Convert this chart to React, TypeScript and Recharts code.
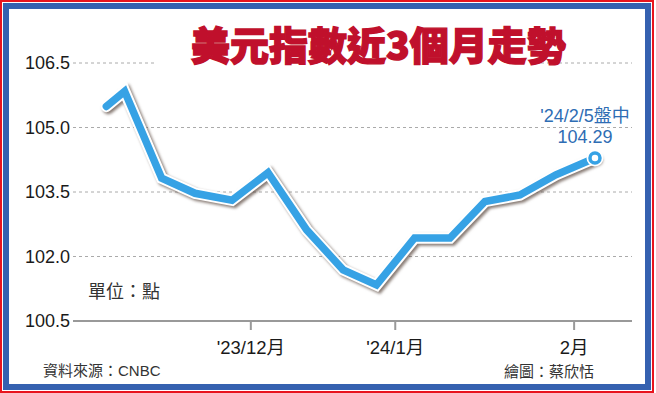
import { LineChart, Line, XAxis, YAxis, CartesianGrid } from 'recharts';

// day offsets counted from 1 Nov 2023
const DAYS = [2.3, 5.8, 12.9, 19.3, 26.4, 33.3, 40.7, 47.7, 54.1, 61.4, 68.2, 74.9, 81.6, 88.5, 96];
const DXY = [105.49, 105.84, 103.82, 103.47, 103.31, 103.95, 102.62, 101.69, 101.34, 102.43, 102.43, 103.28, 103.43, 103.9, 104.29];

const Y_TICKS = [100.5, 102, 103.5, 105, 106.5];
const X_TICKS = [30, 57.7, 92];
const X_LABELS = ["'23/12月", "'24/1月", '2月'];

const data = DAYS.map((day, i) => ({ day, value: DXY[i] }));
const last = data.length - 1;

const SANS = '"Liberation Sans", "Noto Sans CJK TC", sans-serif';
const CJK = '"Noto Sans CJK TC", "Liberation Sans", sans-serif';
const LINE_BLUE = '#36a2e5';

const abs = (left: number, top: number, extra: React.CSSProperties = {}): React.CSSProperties => ({
    position: 'absolute',
    left,
    top,
    whiteSpace: 'nowrap',
    ...extra,
});

export default function App() {
    return (
        <div style={{ position: 'absolute', left: 0, top: 0, width: 656, height: 393, background: '#fff', overflow: 'hidden' }}>
            <style>{`.outline-line { filter: drop-shadow(2px 2.5px 1.5px rgba(70, 50, 40, 0.65)); }`}</style>

            {/* frame: red hairline, white gap, blue band */}
            <div style={abs(0, 0, { width: 654, height: 393, border: '2px solid #e8141e', boxSizing: 'border-box' })} />
            <div style={abs(3, 3, { width: 648, height: 387, border: '6px solid #3561b0', boxSizing: 'border-box' })} />

            <div style={abs(0, 0)}>
                <LineChart width={656} height={393} data={data} margin={{ top: 63, right: 24, bottom: 42, left: 0 }}>
                    <CartesianGrid vertical={false} stroke="#aaaaaa" strokeDasharray="3 3" />
                    <XAxis
                        dataKey="day"
                        type="number"
                        domain={[-4.1, 103.1]}
                        ticks={X_TICKS}
                        tickFormatter={(v: number) => X_LABELS[X_TICKS.indexOf(v)]}
                        height={30}
                        stroke="#999999"
                        axisLine={{ stroke: '#999999', strokeWidth: 2 }}
                        tickLine={{ stroke: '#999999', strokeWidth: 2 }}
                        tickSize={9}
                        tickMargin={11}
                        tick={{ fill: '#1a1a1a', fontSize: 18.5, fontFamily: SANS }}
                    />
                    <YAxis
                        domain={[100.5, 106.5]}
                        ticks={Y_TICKS}
                        tickFormatter={(v: number) => v.toFixed(1)}
                        width={73}
                        axisLine={false}
                        tickLine={false}
                        tickSize={1}
                        tickMargin={2}
                        tick={{ fill: '#1a1a1a', fontSize: 18, fontFamily: SANS }}
                    />
                    <Line
                        className="outline-line"
                        type="linear"
                        dataKey="value"
                        stroke="#ffffff"
                        strokeWidth={11.5}
                        strokeLinecap="round"
                        isAnimationActive={false}
                        dot={(p: any) =>
                            p.index === last ? (
                                <circle key="o-last" cx={p.cx} cy={p.cy} r={8.5} fill="#ffffff" />
                            ) : (
                                <g key={`o-${p.index}`} />
                            )
                        }
                        activeDot={false}
                    />
                    <Line
                        type="linear"
                        dataKey="value"
                        stroke={LINE_BLUE}
                        strokeWidth={7.5}
                        strokeLinecap="round"
                        isAnimationActive={false}
                        dot={(p: any) =>
                            p.index === last ? (
                                <circle key="b-last" cx={p.cx} cy={p.cy} r={5} fill="#ffffff" stroke={LINE_BLUE} strokeWidth={3.5} />
                            ) : (
                                <g key={`b-${p.index}`} />
                            )
                        }
                        activeDot={false}
                    />
                </LineChart>
            </div>

            {/* title, with a white patch that breaks the top gridline */}
            <div style={abs(157, 56, { width: 376, height: 12, background: '#fff' })} />
            <div
                style={abs(191, 21, {
                    fontFamily: CJK,
                    fontWeight: 900,
                    fontSize: 39,
                    lineHeight: '44px',
                    color: '#c0102c',
                    WebkitTextStroke: '1.4px #c0102c',
                })}
            >
                美元指數近3個月走勢
            </div>

            {/* latest reading */}
            <div
                style={abs(535, 106, {
                    width: 100,
                    textAlign: 'center',
                    fontFamily: SANS,
                    fontSize: 18,
                    lineHeight: '21px',
                    color: '#2e6db4',
                })}
            >
                '24/2/5盤中
                <br />
                104.29
            </div>

            <div style={abs(88, 279, { fontFamily: CJK, fontSize: 18, lineHeight: '22px', color: '#333' })}>單位：點</div>
            <div style={abs(43, 362, { fontFamily: SANS, fontSize: 15, lineHeight: '18px', color: '#333' })}>資料來源：CNBC</div>
            <div style={abs(504, 362, { fontFamily: CJK, fontSize: 15, lineHeight: '18px', color: '#333' })}>繪圖：蔡欣恬</div>
        </div>
    );
}
